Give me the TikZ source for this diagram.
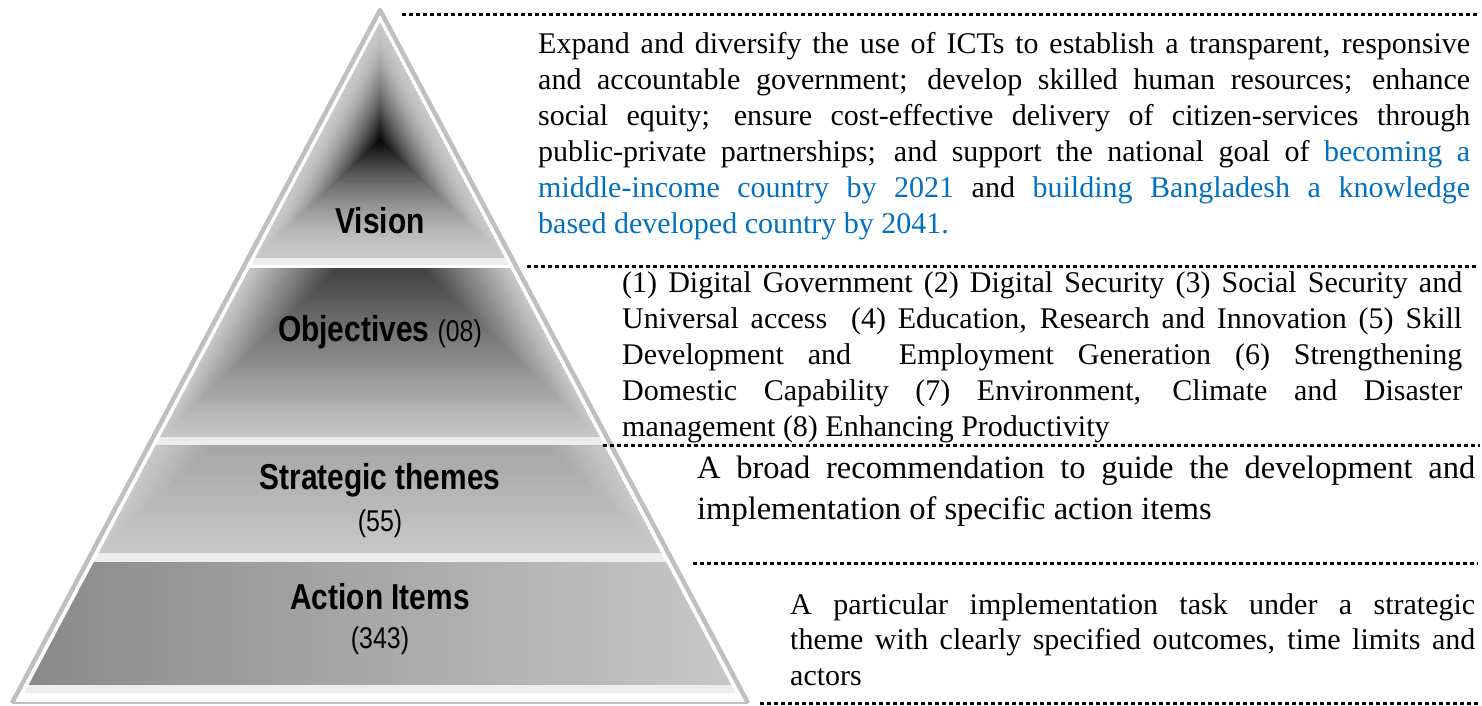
\documentclass[tikz,border=0pt]{standalone}
\usepackage{fontspec}
\setmainfont{Liberation Serif}
\newfontfamily\pyrfont[FakeStretch=0.83]{Liberation Sans}
\definecolor{goalblue}{RGB}{0,112,192}
\newcommand{\jline}[1]{\makebox[\linewidth][s]{#1}\par}
\tikzset{
  sepline/.style={line width=3pt, dash pattern=on 3.5pt off 3.5pt},
  pyrlbl/.style={anchor=base, inner sep=0pt, font=\pyrfont\bfseries\fontsize{36}{40}\selectfont},
  pyrnum/.style={anchor=base, inner sep=0pt, font=\pyrfont\fontsize{30}{36}\selectfont},
  desc/.style={anchor=base west, inner sep=0pt}
}
\begin{document}
\begin{tikzpicture}[x=1pt, y=-1pt]
    \useasboundingbox (0,0) rectangle (1482,705);
    \draw[black!25, line width=4.5pt, line join=round] (12,703) -- (380,10) -- (748,703);
    \draw[black!25, line width=2pt] (12,703) -- (748,703);
    \begin{scope}
        \clip (380,22) -- (505.1,258) -- (254.9,258) -- cycle;
        \foreach \k in {0,...,59} {
            \pgfmathsetmacro\sf{(60-\k)/60}
            \pgfmathtruncatemacro\pct{22+78*(1-\sf)^1.6}
            \fill[black!\pct, scale around={\sf:(380,140)}] (380,22) -- (505.1,258) -- (254.9,258) -- cycle;
        }
    \end{scope}
    \fill[black!7] (254.9,258) -- (505.1,258) -- (508.8,265) -- (251.2,265) -- cycle;
    \begin{scope}
        \clip (249.6,268) -- (510.4,268) -- (600,437) -- (160,437) -- cycle;
        \foreach \k in {0,...,59} {
            \pgfmathsetmacro\sf{(60-\k)/60}
            \pgfmathtruncatemacro\pct{88-66*\sf}
            \fill[black!\pct, scale around={\sf:(380,229.5)}] (380,22) -- (600,437) -- (160,437) -- cycle;
        }
    \end{scope}
    \fill[black!7] (160,437) -- (600,437) -- (604.2,445) -- (155.8,445) -- cycle;
    \begin{scope}
        \clip (155.8,445) -- (604.2,445) -- (661.4,553) -- (98.6,553) -- cycle;
        \foreach \k in {0,...,59} {
            \pgfmathsetmacro\sf{(60-\k)/60}
            \pgfmathtruncatemacro\pct{56-34*\sf}
            \fill[black!\pct, scale around={\sf:(380,287.5)}] (380,22) -- (661.4,553) -- (98.6,553) -- cycle;
        }
    \end{scope}
    \fill[black!7] (98.6,553) -- (661.4,553) -- (666.2,562) -- (93.8,562) -- cycle;
    \shade[left color=black!46, right color=black!22] (93.8,562) -- (666.2,562) -- (731.4,685) -- (28.6,685) -- cycle;
    \fill[black!7] (28.6,685) -- (731.4,685) -- (735.6,693) -- (24.4,693) -- cycle;

    \node[pyrlbl] (vislbl) at (380,233) {Vision};
    \node[pyrlbl] (objlbl) at (380,341) {Objectives {\mdseries\fontsize{30}{36}\selectfont (08)}};
    \node[pyrlbl] (thmlbl) at (380,489) {Strategic themes};
    \node[pyrnum] (thmnum) at (380,531) {(55)};
    \node[pyrlbl] (itmlbl) at (380,609) {Action Items};
    \node[pyrnum] (itmnum) at (380,648) {(343)};

    \draw[sepline] (402,14) -- (1478,14);
    \draw[sepline] (527,266) -- (1478,266);
    \draw[sepline] (603,445) -- (1480,445);
    \draw[sepline] (693,563) -- (1478,563);
    \draw[sepline] (760,703) -- (1478,703);

    \node[desc] (vistxt) at (538,53) {\begin{minipage}[t]{932pt}\fontsize{30}{36}\selectfont
        \jline{Expand and diversify the use of ICTs to establish a transparent, responsive}
        \jline{and accountable government; develop skilled human resources; enhance}
        \jline{social equity; ensure cost-effective delivery of citizen-services through}
        \jline{public-private partnerships; and support the national goal of \textcolor{goalblue}{becoming a}}
        \jline{\textcolor{goalblue}{middle-income country by 2021} and \textcolor{goalblue}{building Bangladesh a knowledge}}
        \textcolor{goalblue}{based developed country by 2041.}
    \end{minipage}};
    \node[desc] (objtxt) at (622,292) {\begin{minipage}[t]{840pt}\fontsize{30}{36.2}\selectfont
        \jline{(1) Digital Government (2) Digital Security (3) Social Security and}
        \jline{Universal access\ \ (4) Education, Research and Innovation (5) Skill}
        \jline{Development and\ \ Employment Generation (6) Strengthening}
        \jline{Domestic Capability (7) Environment, Climate and Disaster}
        management (8) Enhancing Productivity
    \end{minipage}};
    \node[desc] (thmtxt) at (697,478) {\begin{minipage}[t]{778pt}\fontsize{32.5}{41}\selectfont
        \jline{A broad recommendation to guide the development and}
        implementation of specific action items
    \end{minipage}};
    \node[desc] (itmtxt) at (790,614) {\begin{minipage}[t]{685pt}\fontsize{30}{35.5}\selectfont
        \jline{A particular implementation task under a strategic}
        \jline{theme with clearly specified outcomes, time limits and}
        actors
    \end{minipage}};
\end{tikzpicture}
\end{document}
